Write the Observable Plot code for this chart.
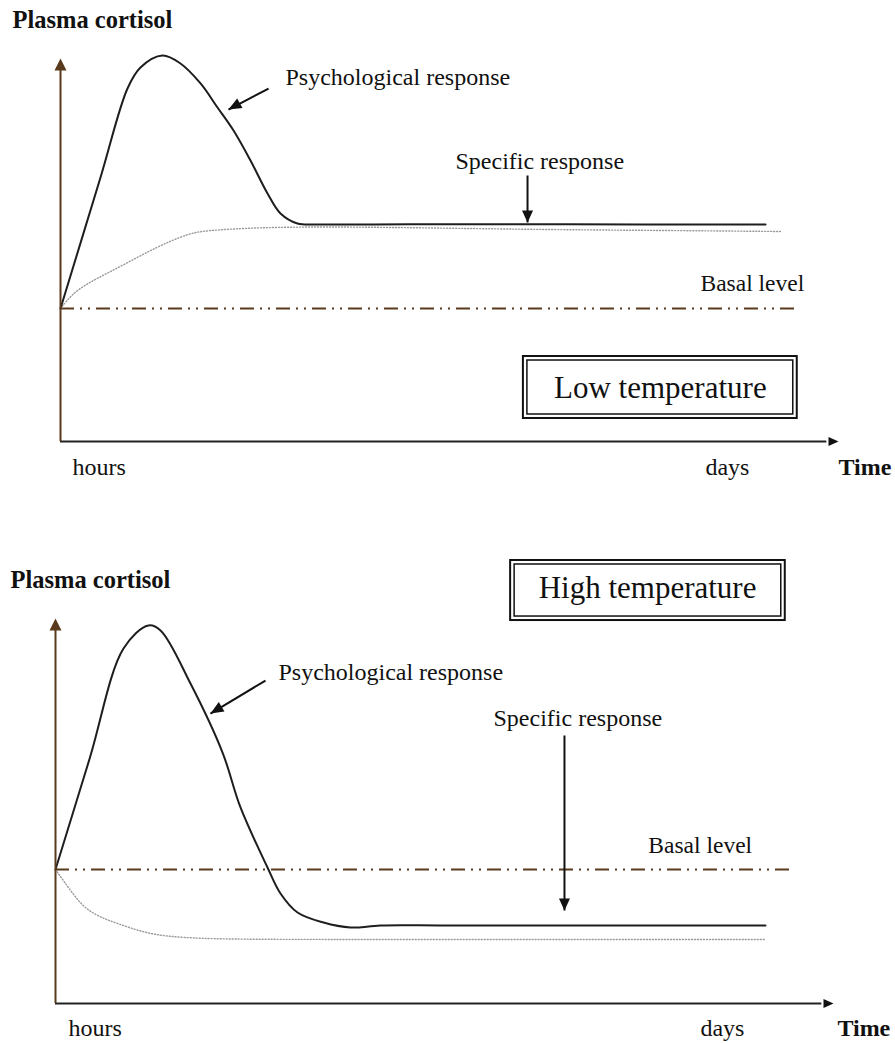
<!DOCTYPE html>
<html><head><meta charset="utf-8">
<script src="https://cdn.jsdelivr.net/npm/d3@7"></script>
<script src="https://cdn.jsdelivr.net/npm/@observablehq/plot@0.6"></script>
<style>body{margin:0;background:#fff;} #chart svg{display:block;}</style>
</head><body><div id="chart"></div>
<script>
// ---- data (time units 0..100, cortisol units with basal level = 1) ----
const panelTitles = ["Low temperature", "High temperature"];
const yLabel = "Plasma cortisol";
const xLabel = "Time";
const xTickLabels = ["hours", "days"];
const seriesLabels = ["Psychological response", "Specific response", "Basal level"];

const lowPsych = [[0,1.0],[5.14,1.985],[8.61,2.654],[10.28,2.812],[13.11,2.902],[15.42,2.842],[18.0,2.692],[20.18,2.511],[22.24,2.338],[24.42,2.113],[26.61,1.865],[28.28,1.714],[30.46,1.639],[33.42,1.632],[45,1.634],[60,1.633],[75,1.632],[90.62,1.632]];
const lowSpecific = [[0,1.0],[1.5,1.11],[3.60,1.195],[7.97,1.323],[12.21,1.459],[16.45,1.564],[18.64,1.586],[25.06,1.609],[36.0,1.617],[60,1.594],[75,1.588],[92.54,1.579]];
const highPsych = [[0,1.0],[4.4,1.83],[8.74,2.649],[11.95,2.821],[13.50,2.784],[17.35,2.388],[21.47,1.873],[23.78,1.463],[27.25,1.015],[28.92,0.821],[31.11,0.679],[34.45,0.604],[37.92,0.567],[41.77,0.582],[50,0.582],[65,0.582],[80,0.582],[91.26,0.582]];
const highSpecific = [[0,1.0],[0.26,0.978],[1.93,0.843],[3.60,0.716],[5.78,0.642],[7.97,0.597],[11.31,0.530],[14.40,0.500],[18.64,0.485],[25.06,0.478],[45,0.478],[65,0.477],[91.26,0.478]];
const basalLevel = 1;
const basalEnd = [94.5, 94.86];
const yAxisTop = [2.88, 2.873];

// annotation anchors (time, cortisol)
const yLabelPos = [[-6.17, 3.165], [-5.78, 3.157]];
const psychLabelPos = [[28.92, 2.737], [28.66, 2.470]];
const specLabelPos = [[50.77, 2.105], [56.3, 2.127]];
const basalLabelPos = [[82.26, 1.188], [76.2, 1.179]];
const tickLabelT = [[1.54, 82.9], [1.67, 82.9]];
const tickLabelC = [-0.195, -0.187];
const timeLabelT = [100, 100.5];
const psychArrow = [[26.74, 2.654, 21.59, 2.496], [26.99, 2.410, 19.92, 2.164]];
const specArrow = [[60.03, 2.0, 60.03, 1.647], [65.42, 2.0, 65.42, 0.694]];
const titleBox = [[59.5, 94.7, 0.173, 0.639], [58.5, 93.8, 2.858, 3.306]];
const titlePos = [[77.1, 0.398], [76.1, 3.097]];

const psychSeries = [lowPsych, highPsych];
const specSeries = [lowSpecific, highSpecific];
const layouts = [
  {height: 500, marginLeft: 60, marginRight: 57, marginTop: 42, marginBottom: 59, psychRot: 241},
  {height: 543, marginLeft: 55, marginRight: 62, marginTop: 101, marginBottom: 40, psychRot: 239}
];

const FONT = "'Liberation Serif', 'Times New Roman', serif";
const BROWN = "#5a3a1c";
const INK = "#111";

function panel(i) {
  const L = layouts[i];
  const txt = (data, opts) => Plot.text(data, {textAnchor: "start", fontFamily: FONT, fill: INK, lineAnchor: "middle", ...opts});
  return Plot.plot({
    width: 895, height: L.height,
    marginLeft: L.marginLeft, marginRight: L.marginRight, marginTop: L.marginTop, marginBottom: L.marginBottom,
    x: {domain: [0, 100], axis: null},
    y: {domain: [0, 3], axis: null},
    style: {fontFamily: FONT, background: "white", color: INK, overflow: "visible"},
    marks: [
      // basal level
      Plot.ruleY([basalLevel], {x1: 0, x2: basalEnd[i], stroke: BROWN, strokeWidth: 2.2, strokeDasharray: "14,6,2,6,2,6"}),
      // specific response
      Plot.line(specSeries[i], {x: d => d[0], y: d => d[1], curve: "basis", stroke: "#9a9a9a", strokeWidth: 1.4, strokeDasharray: "1,2"}),
      // psychological response
      Plot.line(psychSeries[i], {x: d => d[0], y: d => d[1], curve: "catmull-rom", stroke: "#1e1e1e", strokeWidth: 2}),
      // axes
      Plot.ruleY([0], {x1: 0, x2: 98.5, stroke: "#222", strokeWidth: 2}),
      Plot.vector([[100, 0]], {x: d => d[0], y: d => d[1], rotate: 90, length: 10, r: 4.5, anchor: "end", shape: "spike", fill: "#111", stroke: "none"}),
      Plot.ruleX([0], {y1: 0, y2: yAxisTop[i] - 0.06, stroke: BROWN, strokeWidth: 2}),
      Plot.vector([[0, yAxisTop[i]]], {x: d => d[0], y: d => d[1], rotate: 0, length: 12, r: 6, anchor: "end", shape: "spike", fill: BROWN, stroke: "none"}),
      // arrows
      Plot.link([psychArrow[i]], {x1: d => d[0], y1: d => d[1], x2: d => d[2], y2: d => d[3], stroke: "#111", strokeWidth: 2}),
      Plot.vector([psychArrow[i]], {x: d => d[2], y: d => d[3], rotate: L.psychRot, length: 13, r: 5.5, anchor: "end", shape: "spike", fill: "#111", stroke: "none"}),
      Plot.link([specArrow[i]], {x1: d => d[0], y1: d => d[1], x2: d => d[2], y2: d => d[3], stroke: "#111", strokeWidth: 2}),
      Plot.vector([specArrow[i]], {x: d => d[2], y: d => d[3], rotate: 180, length: 12, r: 5.5, anchor: "end", shape: "spike", fill: "#111", stroke: "none"}),
      // title box
      Plot.rect([titleBox[i]], {x1: d => d[0], x2: d => d[1], y1: d => d[2], y2: d => d[3], fill: "white", stroke: "#111", strokeWidth: 2}),
      Plot.rect([titleBox[i]], {x1: d => d[0], x2: d => d[1], y1: d => d[2], y2: d => d[3], inset: 4, fill: "none", stroke: "#111", strokeWidth: 1.5}),
      txt([titlePos[i]], {x: d => d[0], y: d => d[1], text: () => panelTitles[i], textAnchor: "middle", fontSize: 31}),
      // labels
      txt([yLabelPos[i]], {x: d => d[0], y: d => d[1], text: () => yLabel, fontSize: 24.5, fontWeight: "bold"}),
      txt([psychLabelPos[i]], {x: d => d[0], y: d => d[1], text: () => seriesLabels[0], fontSize: 24}),
      txt([specLabelPos[i]], {x: d => d[0], y: d => d[1], text: () => seriesLabels[1], fontSize: 24}),
      txt([basalLabelPos[i]], {x: d => d[0], y: d => d[1], text: () => seriesLabels[2], fontSize: 23.5}),
      txt(tickLabelT[i].map((t, k) => [t, tickLabelC[i], xTickLabels[k]]), {x: d => d[0], y: d => d[1], text: d => d[2], fontSize: 24}),
      txt([[timeLabelT[i], tickLabelC[i]]], {x: d => d[0], y: d => d[1], text: () => xLabel, fontSize: 24, fontWeight: "bold"})
    ]
  });
}

const root = document.getElementById("chart");
root.appendChild(panel(0));
root.appendChild(panel(1));
</script>
</body></html>
